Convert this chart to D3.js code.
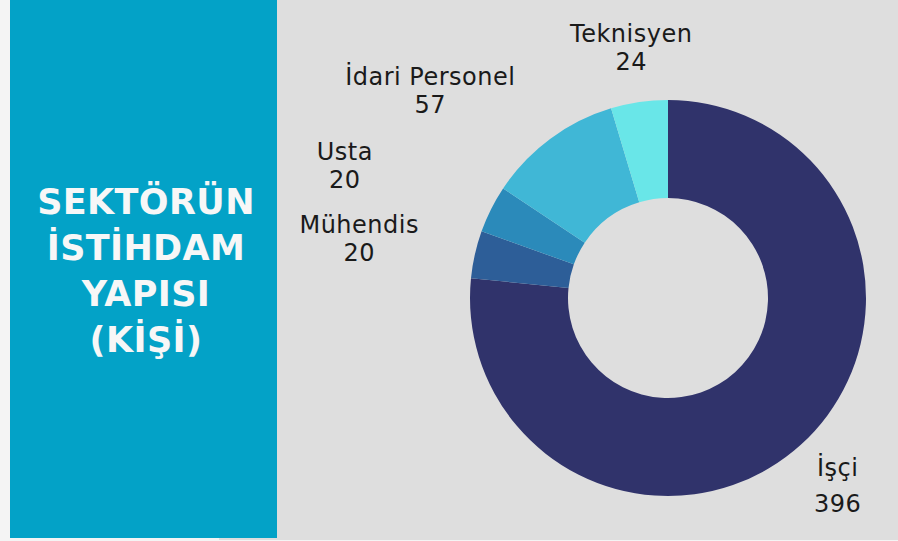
<!DOCTYPE html>
<html>
<head>
<meta charset="utf-8">
<script src="https://cdn.jsdelivr.net/npm/d3@7"></script>
<style>
  body { margin: 0; background: #f4f4f4; }
  svg { display: block; }
</style>
</head>
<body>
<div id="chart"></div>
<script>
// Sektörün istihdam yapısı (kişi)
const width = 898;
const height = 541;

const categories = ["İşçi", "Mühendis", "Usta", "İdari Personel", "Teknisyen"];
const values = [396, 20, 20, 57, 24];
const colors = ["#30336b", "#2d5e98", "#2b8aba", "#40b7d6", "#69e6e8"];
const titleLines = ["SEKTÖRÜN", "İSTİHDAM", "YAPISI", "(KİŞİ)"];

// label nudges (small slices are pushed left, as in the original)
const labelNudge = [[0, 0], [-62, -3], [-97, -19], [-87, -4], [0, 0]];
const lineGap = [36, 28, 28, 28, 28];

const data = categories.map((c, i) => ({
    name: c, value: values[i], color: colors[i], nudge: labelNudge[i], gap: lineGap[i]
}));

const svg = d3.select("#chart")
    .append("svg")
    .attr("width", width)
    .attr("height", height);

// panels
svg.append("rect")
    .attr("x", 219).attr("y", 0)
    .attr("width", width - 219).attr("height", 540)
    .attr("fill", "#dedede");

svg.append("rect")
    .attr("x", 10).attr("y", 0)
    .attr("width", 267).attr("height", 538)
    .attr("fill", "#03a2c7");

svg.append("g")
    .selectAll("text")
    .data(titleLines)
    .enter().append("text")
    .attr("x", 146)
    .attr("y", (d, i) => 214 + i * 46)
    .attr("text-anchor", "middle")
    .attr("fill", "#f7f7f7")
    .attr("font-family", "DejaVu Sans")
    .attr("font-weight", "bold")
    .attr("font-size", 35)
    .attr("letter-spacing", 0.4)
    .text(d => d);

// donut
const cx = 668, cy = 298;
const outerR = 198, innerR = 100;

const pie = d3.pie().sort(null).value(d => d.value);
const arc = d3.arc().innerRadius(innerR).outerRadius(outerR);
const labelArc = d3.arc().innerRadius(253).outerRadius(253);

const g = svg.append("g").attr("transform", `translate(${cx},${cy})`);

const arcs = pie(data);

g.selectAll("path")
    .data(arcs)
    .enter().append("path")
    .attr("d", arc)
    .attr("fill", d => d.data.color);

const labels = g.selectAll("text")
    .data(arcs)
    .enter().append("text")
    .attr("text-anchor", "middle")
    .attr("fill", "#1a1a1a")
    .attr("font-family", "DejaVu Sans")
    .attr("font-size", 24)
    .attr("letter-spacing", 0.5)
    .attr("transform", d => {
        const [x, y] = labelArc.centroid(d);
        return `translate(${x + d.data.nudge[0]},${y + d.data.nudge[1]})`;
    });

labels.append("tspan")
    .attr("x", 0).attr("y", d => 8 - d.data.gap / 2)
    .text(d => d.data.name);

labels.append("tspan")
    .attr("x", 0).attr("y", d => 8 + d.data.gap / 2)
    .text(d => d.data.value);
</script>
</body>
</html>
